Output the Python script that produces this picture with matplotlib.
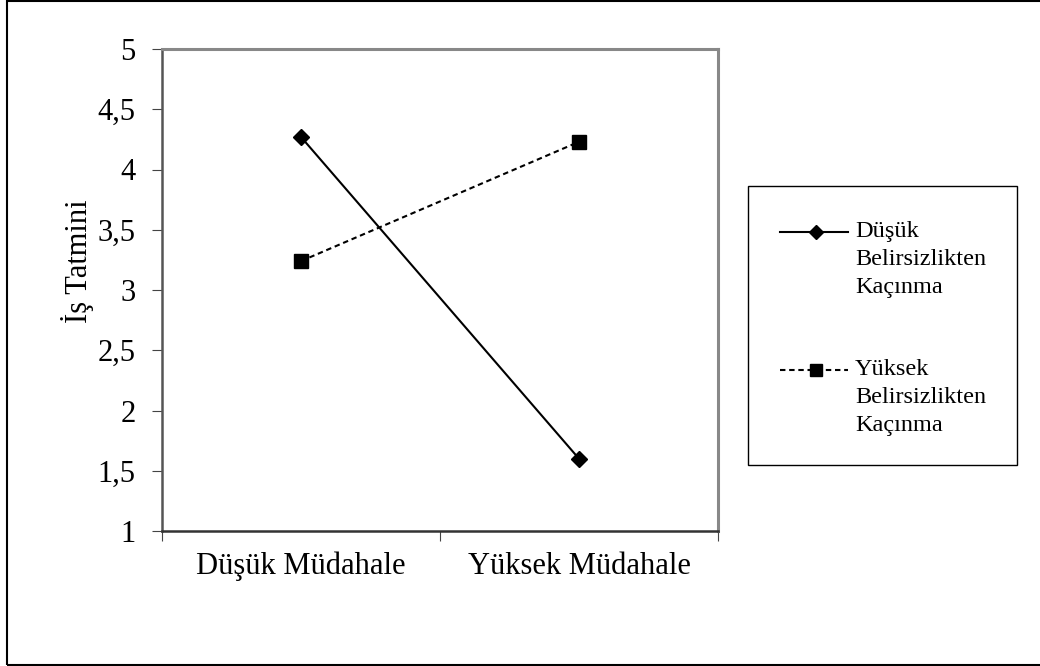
import matplotlib
matplotlib.use("Agg")
import matplotlib.pyplot as plt
from matplotlib.patches import Rectangle
from matplotlib.lines import Line2D

categories = ["Düşük Müdahale", "Yüksek Müdahale"]
dusuk_values = [4.27, 1.60]
yuksek_values = [3.24, 4.23]
series_labels = ["Düşük\nBelirsizlikten\nKaçınma", "Yüksek\nBelirsizlikten\nKaçınma"]
y_ticks = [1, 1.5, 2, 2.5, 3, 3.5, 4, 4.5, 5]
y_tick_labels = ["1", "1,5", "2", "2,5", "3", "3,5", "4", "4,5", "5"]

plt.rcParams["font.family"] = ["Liberation Serif", "DejaVu Serif"]

W, H = 1040, 666
fig = plt.figure(figsize=(W / 100, H / 100), dpi=100)


def fx(px):
    return px / W


def fy(py):
    return 1 - py / H


# outer frame of the chart object
fig.patches.append(Rectangle((fx(7), fy(665)), fx(1045 - 7), (665 - 1) / H,
                             transform=fig.transFigure, fill=False,
                             edgecolor="black", linewidth=1.5))

ax = fig.add_axes([fx(162), fy(531), fx(718 - 162), (531 - 49) / H])

styles = [
    dict(linestyle="-", marker="D", markersize=8),
    dict(linestyle="--", marker="s", markersize=10, dashes=(2.6, 1.8)),
]

x = [0.5, 1.5]
for vals, st in zip([dusuk_values, yuksek_values], styles):
    ax.plot(x, vals, color="black", linewidth=1.5, **st)

ax.set_xlim(0, 2)
ax.set_ylim(1, 5)
ax.set_yticks(y_ticks)
ax.set_yticklabels(y_tick_labels, fontsize=22)
ax.set_xticks([0, 1, 2])
ax.set_xticklabels([])
ax.set_xticks(x, minor=True)
ax.set_xticklabels(categories, minor=True, fontsize=22)
ax.tick_params(axis="x", which="minor", length=0, pad=15)
ax.tick_params(axis="x", which="major", direction="out", length=7, color="#444444")
ax.tick_params(axis="y", direction="out", length=7, color="#444444", pad=12)

for side in ["top", "right"]:
    ax.spines[side].set_color("#888888")
    ax.spines[side].set_linewidth(2.2)
ax.spines["left"].set_color("#555555")
ax.spines["left"].set_linewidth(1.8)
ax.spines["bottom"].set_color("#333333")
ax.spines["bottom"].set_linewidth(1.8)

ax.set_ylabel("İş Tatmini", fontsize=22)
ax.yaxis.set_label_coords(-0.122, 0.56)

# legend box drawn by hand so the handle sits next to the first text line
fig.patches.append(Rectangle((fx(748), fy(465)), fx(1017 - 748), (465 - 186) / H,
                             transform=fig.transFigure, fill=False,
                             edgecolor="black", linewidth=1))
for label, st, yc in zip(series_labels, styles, [232, 370]):
    fig.add_artist(Line2D([fx(780), fx(848)], [fy(yc), fy(yc)], color="black",
                          linewidth=1.5, **{k: v for k, v in st.items() if k != "marker"}))
    fig.add_artist(Line2D([fx(816)], [fy(yc)], color="black", marker=st["marker"],
                          markersize=st["markersize"] - 1, linestyle="none"))
    fig.text(fx(855), fy(yc - 11), label, fontsize=17.5, va="top", ha="left",
             linespacing=1.45)

fig.savefig("out.png", dpi=100, facecolor="white")
